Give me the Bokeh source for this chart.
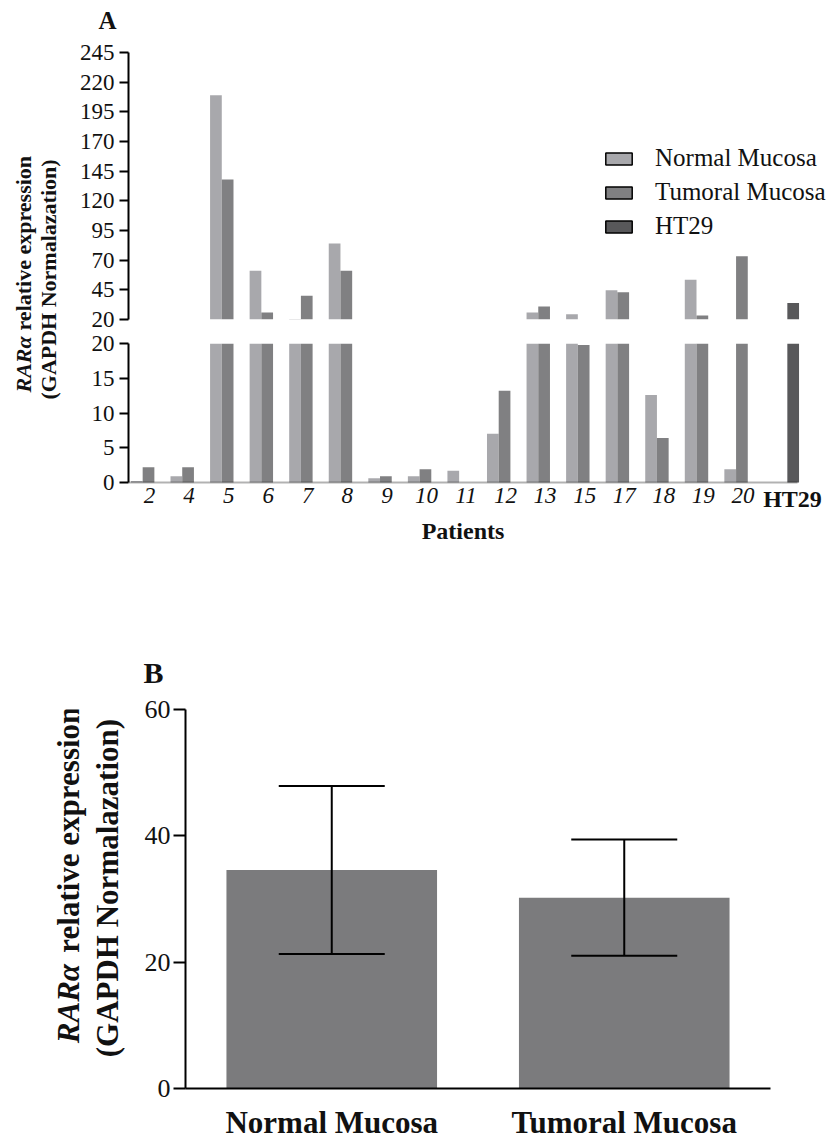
import math
from bokeh.plotting import figure
from bokeh.models import (ColumnDataSource, Range1d, FixedTicker, Legend, LegendItem,
                          Label, Whisker, TeeHead, FactorRange, CDSView, BooleanFilter,
                          BoxAnnotation)
from bokeh.core.properties import value
from bokeh.layouts import column, row
from bokeh.transform import dodge
from bokeh.embed import file_html
from bokeh.resources import INLINE

# ---------------- data (panel A) ----------------
patients = ["2", "4", "5", "6", "7", "8", "9", "10", "11", "12", "13", "15", "17", "18", "19", "20", "HT29"]
normal_mucosa = [0.2, 0.9, 209.0, 61.0, 20.5, 84.0, 0.6, 0.9, 1.7, 7.0, 26.0, 24.5, 44.6, 12.6, 53.6, 1.9, 0.0]
tumoral_mucosa = [2.2, 2.2, 138.0, 26.0, 40.0, 61.0, 0.9, 1.9, 0.0, 13.2, 31.0, 19.8, 43.0, 6.4, 23.4, 73.4, 0.0]
ht29_line = [0, 0, 0, 0, 0, 0, 0, 0, 0, 0, 0, 0, 0, 0, 0, 0, 34.0]
upper_ticks = [20, 45, 70, 95, 120, 145, 170, 195, 220, 245]
lower_ticks = [0, 5, 10, 15, 20]
BREAK = 20          # axis break value

# ---------------- data (panel B) ----------------
groups = ["Normal Mucosa", "Tumoral Mucosa"]
group_means = [34.6, 30.2]
group_sem = [13.3, 9.2]
b_ticks = [0, 20, 40, 60]

SERIF = "Liberation Serif"
C_N = "#a8a8ac"
C_T = "#808082"
C_H = "#58585a"
C_B = "#7b7b7d"
INK = "#111111"
BW = 0.296
PX = 39.56          # pixels per patient group
X0 = -0.506         # data x at the left edge of panel A frame
PY_LOW = 139 / 20   # pixels per unit in the lower (0-20) section
LOW_FRAME_H = 205   # lower frame height (extends below zero to hold the x labels)

idx = list(range(len(patients)))
src = ColumnDataSource(dict(x=idx, normal=normal_mucosa, tumoral=tumoral_mucosa, ht29=ht29_line))


def clean(p):
    p.outline_line_color = None
    p.xgrid.visible = False
    p.ygrid.visible = False
    p.background_fill_color = "white"
    p.border_fill_color = "white"


def blank(w, h, xr, yr):
    p = figure(width=w, height=h, x_range=xr, y_range=yr, x_axis_location=None,
               y_axis_location=None, toolbar_location=None, output_backend="svg",
               min_border_left=0, min_border_right=0, min_border_top=0, min_border_bottom=0)
    clean(p)
    return p


def style_y(ax, size, tick_out, standoff):
    ax.axis_line_color = "black"
    ax.axis_line_width = 2
    ax.major_tick_line_color = "black"
    ax.major_tick_line_width = 2
    ax.major_tick_out = tick_out
    ax.major_tick_in = 0
    ax.minor_tick_line_color = None
    ax.major_label_text_font = SERIF
    ax.major_label_text_font_size = size
    ax.major_label_text_color = INK
    ax.major_label_standoff = standoff


def bars(p, upper=False):
    specs = (("normal", -BW, C_N), ("tumoral", 0.0, C_T), ("ht29", BW, C_H))
    for col, off, fc in specs:
        kw = {}
        if upper:
            kw["view"] = CDSView(filter=BooleanFilter([v > BREAK for v in src.data[col]]))
        p.vbar(x=dodge("x", off), top=col, width=BW, source=src, fill_color=fc, line_color=None, **kw)


def lab(text, x, y, size, style="bold", angle=0.0, align="center"):
    return Label(x=x, y=y, text=text, angle=angle, text_font=SERIF, text_font_style=style,
                 text_font_size=size, text_align=align, text_baseline="middle", text_color=INK)


xr_A = Range1d(X0, X0 + 698 / PX)
axis_end = X0 + 669 / PX

# ---- panel A: "A" letter row ----
topA = blank(826, 40, Range1d(0, 826), Range1d(40, 0))
topA.add_layout(lab("A", 107, 20, "25px"))

# ---- panel A, upper part (20-245) ----
up = figure(width=756, height=291, x_range=xr_A, y_range=Range1d(BREAK, 245),
            x_axis_location=None, toolbar_location=None, output_backend="svg",
            min_border_left=58, min_border_right=0, min_border_top=12, min_border_bottom=12)
clean(up)
style_y(up.yaxis[0], "23px", 9, 5)
up.yaxis.ticker = FixedTicker(ticks=upper_ticks)
bars(up, upper=True)

# hidden proxies give the legend its outlined swatches
prox = []
for col, fc in (("normal", C_N), ("tumoral", C_T), ("ht29", C_H)):
    r = up.vbar(x="x", top=col, width=BW, source=src, fill_color=fc, line_color="black", line_width=1.5)
    r.visible = False
    prox.append(r)
legend = Legend(items=[LegendItem(label="Normal Mucosa", renderers=[prox[0]]),
                       LegendItem(label="Tumoral Mucosa", renderers=[prox[1]]),
                       LegendItem(label="HT29", renderers=[prox[2]])],
                location=(474, 79), padding=0, margin=0, spacing=6,
                glyph_width=33, glyph_height=15, label_standoff=20,
                label_text_font=SERIF, label_text_font_size="25px", label_text_color=INK,
                border_line_color=None, background_fill_alpha=0)
up.add_layout(legend)

# ---- panel A, lower part (0-20); frame reaches below zero to hold the labels ----
low_start = -(LOW_FRAME_H - 139) / PY_LOW
low = figure(width=756, height=269, x_range=xr_A, y_range=Range1d(low_start, BREAK),
             x_axis_location=None, toolbar_location=None, output_backend="svg",
             min_border_left=58, min_border_right=0, min_border_top=12,
             min_border_bottom=269 - 12 - LOW_FRAME_H)
clean(low)
style_y(low.yaxis[0], "23px", 9, 5)
low.yaxis.ticker = FixedTicker(ticks=lower_ticks)
low.yaxis.bounds = (0, BREAK)
bars(low)
# the category axis base line
low.add_layout(BoxAnnotation(left=X0, right=axis_end, bottom=0, top=0, fill_alpha=0,
                             line_color="black", line_width=2, level="overlay"))
lab_src = ColumnDataSource(dict(x=idx[:-1], lab=patients[:-1]))
low.text(x="x", y=0, text="lab", source=lab_src, x_offset=1, y_offset=5,
         text_font=value(SERIF), text_font_style="italic", text_font_size=value("23px"),
         text_align="center", text_baseline="top", text_color=INK)
ht_src = ColumnDataSource(dict(x=idx[-1:], lab=patients[-1:]))
low.text(x="x", y=0, text="lab", source=ht_src, x_offset=11, y_offset=3,
         text_font=value(SERIF), text_font_style="bold", text_font_size=value("24px"),
         text_align="center", text_baseline="top", text_color=INK)
low.add_layout(lab("Patients", (X0 + axis_end) / 2, -(530 - 482) / PY_LOW, "24px"))

# ---- panel A, y-axis title strip ----
stripA = blank(70, 560, Range1d(0, 70), Range1d(600, 40))
stripA.add_layout(lab("RARα", 23, 392, "22px", "bold italic", math.pi / 2, "left"))
stripA.add_layout(lab("relative expression", 23, 330, "22px", "bold", math.pi / 2, "left"))
stripA.add_layout(lab("(GAPDH Normalazation)", 48, 279, "22px", "bold", math.pi / 2))

# ---- panel B: "B" letter row ----
topB = blank(826, 90, Range1d(0, 826), Range1d(690, 600))
topB.add_layout(lab("B", 153, 672, "30px"))

# ---- panel B ----
pb = figure(width=701, height=452, x_range=FactorRange(*groups), y_range=Range1d(0, 60),
            toolbar_location=None, output_backend="svg",
            min_border_left=60, min_border_right=56, min_border_top=19, min_border_bottom=43)
clean(pb)
style_y(pb.yaxis[0], "26px", 12, 3)
pb.yaxis.ticker = FixedTicker(ticks=b_ticks)
srcb = ColumnDataSource(dict(g=groups, m=group_means,
                             hi=[m + s for m, s in zip(group_means, group_sem)],
                             lo=[m - s for m, s in zip(group_means, group_sem)]))
pb.vbar(x="g", top="m", width=0.72, source=srcb, fill_color=C_B, line_color=None)
pb.add_layout(Whisker(base="g", upper="hi", lower="lo", source=srcb, level="annotation",
                      line_color="black", line_width=2,
                      upper_head=TeeHead(size=106, line_color="black", line_width=2),
                      lower_head=TeeHead(size=106, line_color="black", line_width=2)))
xb = pb.xaxis[0]
xb.axis_line_color = "black"
xb.axis_line_width = 2
xb.major_tick_line_color = None
xb.minor_tick_line_color = None
xb.major_label_text_font = SERIF
xb.major_label_text_font_style = "bold"
xb.major_label_text_font_size = "31px"
xb.major_label_text_color = INK
xb.major_label_standoff = 10

# ---- panel B, y-axis title strip ----
stripB = blank(125, 452, Range1d(0, 125), Range1d(1142, 690))
stripB.add_layout(lab("RARα", 68, 1088, "31px", "bold italic", math.pi / 2, "left"))
stripB.add_layout(lab("relative expression", 68, 980, "31px", "bold", math.pi / 2, "left"))
stripB.add_layout(lab("(GAPDH Normalazation)", 107, 903, "31px", "bold", math.pi / 2))

layout = column(
    topA,
    row(stripA, column(up, low, spacing=0), spacing=0),
    topB,
    row(stripB, pb, spacing=0),
    spacing=0,
)

open("out.html", "w").write(file_html(layout, INLINE))
